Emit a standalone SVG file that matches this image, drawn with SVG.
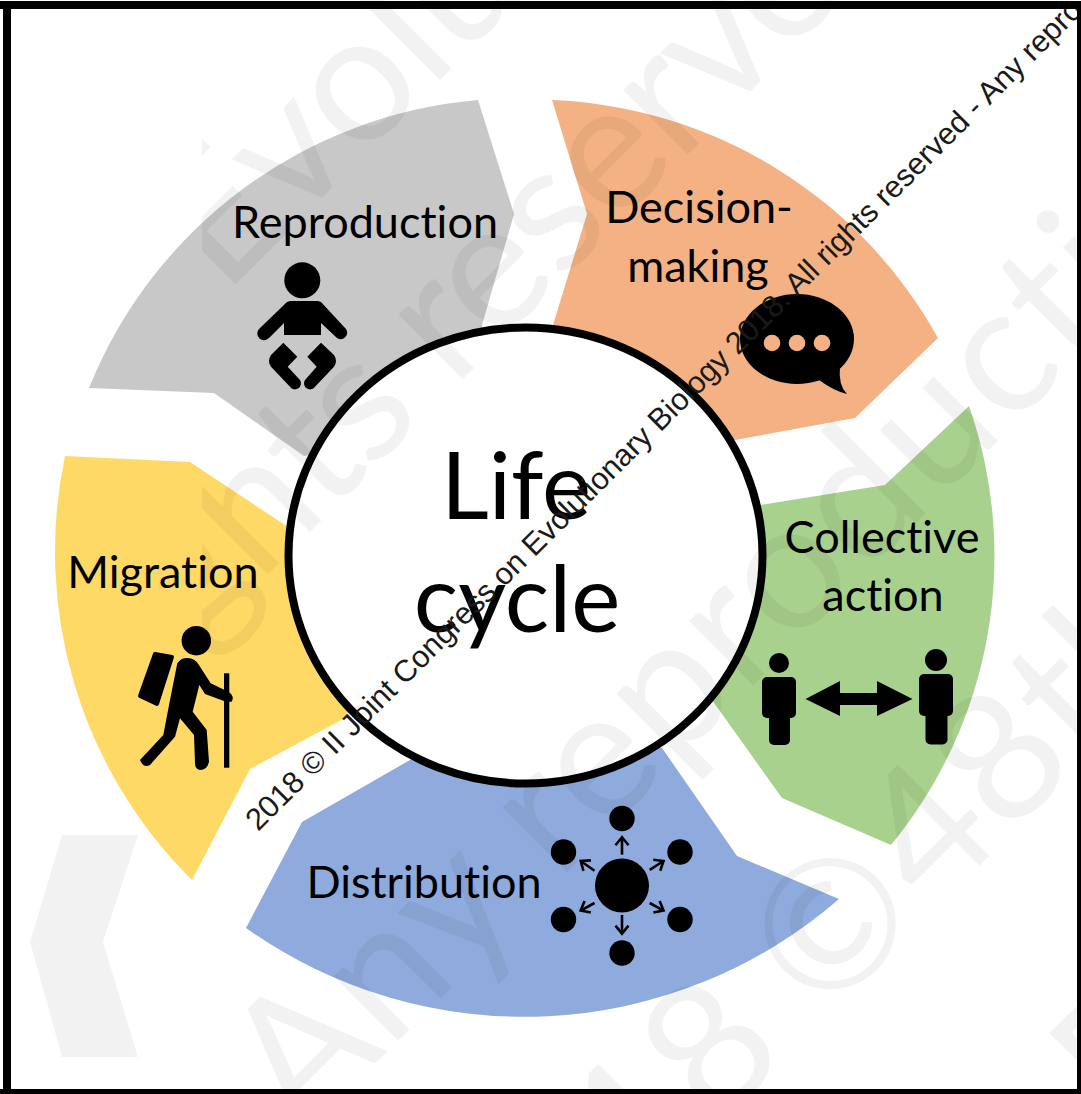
<svg xmlns="http://www.w3.org/2000/svg" width="1081" height="1094" viewBox="0 0 1081 1094">
<style>
text{font-variant-ligatures:none}
.lbl{font-family:"Lato","Open Sans",sans-serif;font-size:45px;fill:#000;text-anchor:middle}
.big{font-family:"Lato","Open Sans",sans-serif;font-size:93px;fill:#000;text-anchor:middle}
.wm{font-family:"Lato","Open Sans",sans-serif;font-size:180px;fill:#000;fill-opacity:.05}
.ws{fill:#000;fill-opacity:.05}
.ic{fill:#000}
.ar{fill:none;stroke:#000;stroke-width:2.6}
</style>
<defs>
<clipPath id="wc"><rect x="202" y="0" width="879" height="1094"/></clipPath>
<marker id="ah" markerUnits="userSpaceOnUse" markerWidth="16" markerHeight="16" refX="13" refY="8" orient="auto"><path d="M5,1.5 L13,8 L5,14.5" fill="none" stroke="#000" stroke-width="2.6"/></marker>
</defs>
<rect width="1081" height="1094" fill="#fff"/>
<g id="reproduction-shape"><path d="M478,100 L514,214 L482,325 L500,420 L304,456 L214,393 L89,388 A462,462 0 0 1 478,100 Z" fill="#c8c8c8"/></g>
<g id="decision-shape"><path d="M552,100 L587,214 L553,325 L600,440 L735,440 L855,418 L938,338 A462,462 0 0 0 552,100 Z" fill="#f4b183"/></g>
<g id="collective-shape"><path d="M969,406 L885,485 L760,505 L680,600 L712,700 L782,798 L891,845 A455,455 0 0 0 969,406 Z" fill="#a9d18e"/></g>
<g id="distribution-shape"><path d="M839,899 L737,856 L662,748 L520,700 L410,760 L302,822 L246,928 A480,480 0 0 0 839,899 Z" fill="#8faadc"/></g>
<g id="migration-shape"><path d="M65,456 L190,462 L300,535 L360,600 L347,717 L250,769 L192,880 A462,462 0 0 1 65,456 Z" fill="#ffd966"/></g>
<g id="life-cycle"><ellipse cx="525.5" cy="555.5" rx="237" ry="228" fill="#fff" stroke="#000" stroke-width="8"/></g>
<g id="watermark">
<g clip-path="url(#wc)">
<text class="wm" transform="translate(224,296) rotate(-45)">Evolutionary</text>
<text class="wm" letter-spacing="-3" transform="translate(122,720) rotate(-45)">rights reserved</text>
</g>
<text class="wm" letter-spacing="2" transform="translate(302,1137) rotate(-45)">Any reproduction</text>
<text class="wm" transform="translate(495,1350) rotate(-45)">2018 ©<tspan dx="-40"> 48th</tspan></text>
<polygon class="ws" points="30,942 62,835 138,835 103,942 138,1057 62,1057"/>
<polygon class="ws" points="1049,1033 1077,1006 1077,1027 1072,1033 1077,1039 1077,1060"/>
</g>
<g id="reproduction">
<text class="lbl" x="365" y="238">Reproduction</text>
<circle class="ic" cx="302.3" cy="280.3" r="18"/>
<path class="ic" d="M290,301 H318 L321,302 L346,329 A6.5,6.5 0 0 1 337,338 L321,323 V335 H284 V323 L269,338 A6.5,6.5 0 0 1 259,329 L287,302 Z"/>
<path class="ic" d="M283.3,342.7 L297.3,356.7 L287.7,366.7 L300,380 A5.5,5.5 0 0 1 290,386.7 L271,366.7 Q267,361 271,355 Z"/>
<path class="ic" d="M321,342.7 L307.3,356.7 L316.7,366.7 L305,380 A5.5,5.5 0 0 0 315,386.7 L334,366.7 Q338,361 334,355 Z"/>
</g>
<g id="decision-making">
<text class="lbl" x="699" y="223">Decision-</text>
<text class="lbl" x="698" y="282">making</text>
<ellipse class="ic" cx="797" cy="339" rx="57" ry="45"/>
<path class="ic" d="M819,380 Q834,391 847,394 Q838,385 840,367 Z"/>
<circle cx="772" cy="343" r="8.3" fill="#f4b183"/><circle cx="797" cy="343" r="8.3" fill="#f4b183"/><circle cx="822" cy="343" r="8.3" fill="#f4b183"/>
</g>
<g id="collective-action">
<text class="lbl" x="882" y="553">Collective</text>
<text class="lbl" x="883" y="611">action</text>
<circle class="ic" cx="779" cy="663" r="10"/>
<rect class="ic" x="762" y="677" width="34" height="41" rx="5"/>
<rect class="ic" x="769" y="702" width="21" height="43" rx="5"/>
<circle class="ic" cx="936" cy="660" r="11"/>
<rect class="ic" x="919" y="674" width="34" height="42" rx="5"/>
<rect class="ic" x="925.5" y="702" width="22" height="42.5" rx="5"/>
<path class="ic" d="M805.5,699 L840,681 V693 H877 V681 L912.5,699 L877,716 V705 H840 V716 Z"/>
</g>
<g id="distribution">
<text class="lbl" x="424" y="898">Distribution</text>
<circle class="ic" cx="622" cy="885.5" r="27"/>
<circle class="ic" cx="622" cy="818.5" r="12.7"/><circle class="ic" cx="622" cy="953" r="12.7"/>
<circle class="ic" cx="563.5" cy="852" r="12.7"/><circle class="ic" cx="680" cy="852" r="12.7"/>
<circle class="ic" cx="563.5" cy="919.5" r="12.7"/><circle class="ic" cx="680" cy="919.5" r="12.7"/>
<g id="distribution-arrows">
<path class="ar" d="M622,854.7 V837.3" marker-end="url(#ah)"/>
<path class="ar" d="M622,915 V933.6" marker-end="url(#ah)"/>
<path class="ar" d="M649.7,869.8 L663.5,861" marker-end="url(#ah)"/>
<path class="ar" d="M594.5,870.8 L580.7,861" marker-end="url(#ah)"/>
<path class="ar" d="M649.7,903 L663.5,910.6" marker-end="url(#ah)"/>
<path class="ar" d="M594.5,903 L580.7,910.6" marker-end="url(#ah)"/>
</g>
</g>
<g id="migration">
<text class="lbl" x="163" y="588">Migration</text>
<circle class="ic" cx="196.3" cy="640.7" r="14.7"/>
<path class="ic" stroke="#000" stroke-width="4" stroke-linejoin="round" d="M155,654 L172,657 L157,704 L140,696 Z"/>
<rect class="ic" x="224" y="673.3" width="5.3" height="94.4"/>
<path class="ic" d="M177.3,663.3 Q181.7,656.7 190,658.3 Q195,659.3 198.3,664 L210.7,683.3 L228.3,691.7 Q235,696 231.7,701.7 L226,701.7 L205,694 L199.3,685 L192.7,711.7 L206.7,730 L209,761.7 Q207.3,770 200,770 Q195,769.3 195,763.3 L194,735 L180,718.3 L175,736.7 L150,765 Q143.3,768.3 140,760 L163.3,735 L170,700 Z"/>
</g>
<g id="center-label">
<text class="big" x="516" y="519">Life</text>
<text class="big" x="517" y="632">cycle</text>
</g>
<text id="copyright" transform="translate(258,832) rotate(-44.8)" font-family="Liberation Sans, Arial, sans-serif" font-size="30.7" fill="#1a1a1a">2018 © II Joint Congress on Evolutionary Biology 2018. All rights reserved - Any repro</text>
<g id="frame">
<rect x="0" y="1" width="1081" height="8" fill="#000"/><rect x="3" y="1" width="8" height="1093" fill="#000"/><rect x="1077" y="1" width="4" height="1093" fill="#000"/><rect x="0" y="1089" width="1081" height="5" fill="#000"/>
</g>
</svg>
